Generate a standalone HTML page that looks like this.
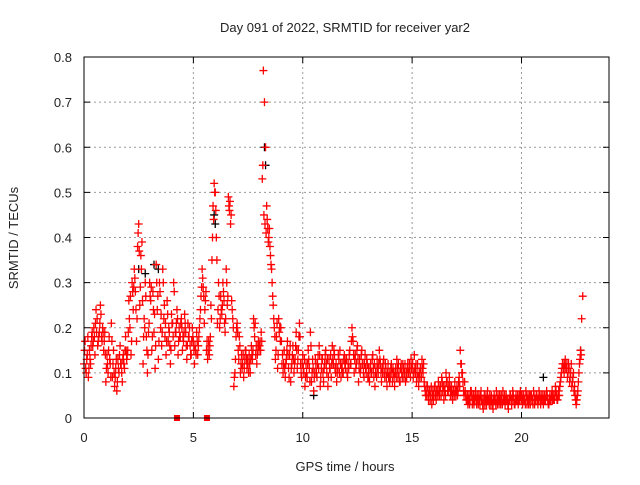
<!DOCTYPE html>
<html><head><meta charset="utf-8"><style>
html,body{margin:0;padding:0;background:#fff}
svg text{font-family:"Liberation Sans",sans-serif;font-size:13px;fill:#222}
</style></head><body>
<svg id="c" width="640" height="480">
<text x="345" y="32" text-anchor="middle">Day 091 of 2022, SRMTID for receiver yar2</text>
<text transform="translate(18,238) rotate(-90)" text-anchor="middle">SRMTID / TECUs</text>
<text x="345" y="471" text-anchor="middle">GPS time / hours</text>
<g id="grid"></g><g id="ticks"></g><g id="marks"></g>
<rect x="84" y="57" width="525" height="361" fill="none" stroke="#000" stroke-width="1"/>
</svg>
<script>
const xTicks=[0,5,10,15,20];
const yTicks=[0,0.1,0.2,0.3,0.4,0.5,0.6,0.7,0.8];
const yTickLabels=["0","0.1","0.2","0.3","0.4","0.5","0.6","0.7","0.8"];
const blockStarts=[0,1,2,3,4,5,6,7,8,9,10,11,12,13,14,15,16,17,18,19,20,21,22];
const redBlocks=[
[0.12,0.17,0.10,0.14,0.09,0.15,0.12,0.18,0.16,0.20,0.14,0.24,0.22,0.17,0.19,0.25,0.18,0.20,0.15,0.19],
[0.08,0.14,0.10,0.18,0.12,0.21,0.09,0.15,0.07,0.11,0.06,0.13,0.10,0.16,0.12,0.08,0.14,0.11,0.18,0.13],
[0.15,0.26,0.20,0.14,0.30,0.24,0.33,0.28,0.17,0.38,0.43,0.25,0.36,0.39,0.12,0.22,0.30,0.18,0.10,0.19],
[0.30,0.26,0.15,0.28,0.19,0.11,0.34,0.24,0.13,0.30,0.20,0.16,0.33,0.22,0.18,0.14,0.26,0.17,0.19,0.12],
[0.23,0.21,0.30,0.16,0.19,0.24,0.14,0.20,0.18,0.22,0.15,0.17,0.23,0.19,0.13,0.21,0.18,0.16,0.14,0.20],
[0.17,0.12,0.15,0.19,0.14,0.18,0.22,0.27,0.33,0.29,0.21,0.26,0.15,0.13,0.17,0.16,0.25,0.35,0.47,0.52],
[0.50,0.40,0.21,0.30,0.20,0.27,0.23,0.30,0.26,0.19,0.33,0.25,0.49,0.46,0.43,0.26,0.22,0.07,0.10,0.18],
[0.21,0.15,0.18,0.10,0.14,0.12,0.09,0.13,0.15,0.11,0.12,0.14,0.10,0.16,0.13,0.22,0.18,0.14,0.12,0.16],
[0.15,0.17,0.19,0.53,0.77,0.70,0.60,0.47,0.42,0.40,0.38,0.34,0.30,0.25,0.20,0.13,0.18,0.11,0.22,0.20],
[0.20,0.12,0.10,0.15,0.09,0.13,0.17,0.11,0.14,0.08,0.12,0.16,0.10,0.13,0.19,0.11,0.15,0.21,0.12,0.09],
[0.14,0.10,0.07,0.12,0.09,0.15,0.11,0.19,0.08,0.13,0.06,0.10,0.12,0.09,0.14,0.16,0.07,0.11,0.13,0.08],
[0.12,0.15,0.10,0.07,0.13,0.11,0.09,0.16,0.12,0.14,0.10,0.08,0.11,0.13,0.15,0.09,0.12,0.10,0.14,0.11],
[0.13,0.09,0.11,0.15,0.12,0.20,0.17,0.10,0.14,0.12,0.16,0.08,0.13,0.11,0.15,0.12,0.09,0.14,0.10,0.12],
[0.11,0.08,0.12,0.10,0.14,0.09,0.07,0.11,0.13,0.10,0.15,0.12,0.08,0.10,0.13,0.09,0.11,0.07,0.12,0.10],
[0.09,0.12,0.08,0.10,0.07,0.11,0.13,0.09,0.10,0.08,0.12,0.09,0.11,0.10,0.08,0.09,0.12,0.10,0.11,0.13],
[0.11,0.09,0.14,0.10,0.08,0.12,0.07,0.09,0.11,0.13,0.10,0.08,0.06,0.05,0.07,0.04,0.06,0.05,0.03,0.06],
[0.05,0.07,0.04,0.06,0.08,0.05,0.07,0.09,0.06,0.04,0.07,0.10,0.08,0.06,0.09,0.05,0.07,0.04,0.06,0.08],
[0.05,0.07,0.06,0.09,0.15,0.12,0.10,0.06,0.08,0.05,0.04,0.03,0.05,0.04,0.06,0.03,0.05,0.04,0.06,0.03],
[0.04,0.05,0.03,0.06,0.04,0.02,0.05,0.04,0.03,0.06,0.04,0.05,0.03,0.04,0.02,0.05,0.04,0.06,0.03,0.04],
[0.05,0.03,0.04,0.06,0.04,0.03,0.05,0.04,0.02,0.04,0.05,0.03,0.06,0.04,0.03,0.05,0.04,0.03,0.05,0.06],
[0.04,0.03,0.05,0.04,0.06,0.03,0.05,0.04,0.03,0.05,0.04,0.06,0.03,0.04,0.05,0.03,0.06,0.04,0.05,0.04],
[0.03,0.05,0.04,0.06,0.04,0.03,0.05,0.04,0.06,0.05,0.04,0.07,0.05,0.04,0.06,0.07,0.09,0.11,0.12,0.10],
[0.13,0.11,0.09,0.12,0.08,0.10,0.07,0.09,0.06,0.05,0.03,0.05,0.08,0.12,0.15,0.22,0.27]
];
const redBlocks2=[
[0.15,0.11,0.13,0.18,0.11,0.13,0.16,0.19,0.17,0.18,0.21,0.19,0.16,0.18,0.21,0.23,0.17,0.19,0.17,0.14],
[0.11,0.12,0.15,0.13,0.09,0.17,0.12,0.10,0.09,0.13,0.08,0.11,0.14,0.12,0.10,0.13,0.12,0.15,0.15,0.14],
[0.19,0.22,0.27,0.17,0.28,0.29,0.31,0.24,0.22,0.41,0.37,0.29,0.33,0.26,0.18,0.20,0.27,0.15,0.14,0.21],
[0.27,0.29,0.18,0.24,0.23,0.16,0.30,0.27,0.17,0.28,0.23,0.19,0.30,0.25,0.21,0.17,0.23,0.20,0.16,0.15],
[0.21,0.18,0.28,0.19,0.21,0.22,0.17,0.18,0.21,0.20,0.18,0.19,0.21,0.16,0.16,0.18,0.20,0.14,0.17,0.18],
[0.15,0.16,0.14,0.17,0.16,0.20,0.24,0.29,0.31,0.27,0.24,0.28,0.17,0.15,0.14,0.18,0.22,0.40,0.44,0.50],
[0.46,0.35,0.24,0.27,0.22,0.24,0.25,0.28,0.21,0.22,0.30,0.27,0.47,0.48,0.45,0.24,0.20,0.09,0.13,0.20],
[0.19,0.13,0.16,0.12,0.11,0.14,0.11,0.15,0.13,0.13,0.10,0.12,0.13,0.14,0.15,0.20,0.21,0.16,0.14,0.17],
[0.16,0.15,0.17,0.56,0.45,0.43,0.41,0.44,0.39,0.42,0.36,0.33,0.27,0.22,0.18,0.15,0.21,0.14,0.19,0.17],
[0.17,0.14,0.12,0.11,0.12,0.15,0.14,0.09,0.16,0.11,0.14,0.13,0.12,0.16,0.15,0.13,0.18,0.18,0.10,0.12],
[0.11,0.13,0.09,0.10,0.12,0.13,0.08,0.16,0.10,0.11,0.09,0.13,0.10,0.12,0.11,0.14,0.09,0.13,0.10,0.11],
[0.14,0.12,0.13,0.09,0.11,0.14,0.12,0.13,0.15,0.11,0.12,0.10,0.14,0.10,0.12,0.11,0.10,0.13,0.12,0.13],
[0.10,0.12,0.14,0.12,0.17,0.18,0.14,0.13,0.11,0.15,0.13,0.11,0.10,0.14,0.12,0.10,0.12,0.11,0.13,0.09],
[0.09,0.11,0.10,0.13,0.11,0.12,0.10,0.09,0.11,0.12,0.13,0.10,0.11,0.12,0.10,0.12,0.09,0.10,0.09,0.08],
[0.11,0.10,0.11,0.09,0.10,0.09,0.11,0.12,0.08,0.11,0.10,0.12,0.09,0.12,0.10,0.11,0.10,0.12,0.09,0.11],
[0.12,0.10,0.11,0.12,0.10,0.09,0.10,0.11,0.09,0.11,0.12,0.07,0.05,0.07,0.05,0.06,0.04,0.07,0.05,0.04],
[0.07,0.05,0.06,0.05,0.06,0.07,0.05,0.08,0.07,0.06,0.05,0.08,0.06,0.07,0.07,0.06,0.05,0.06,0.05,0.06],
[0.06,0.05,0.08,0.07,0.12,0.10,0.08,0.05,0.06,0.04,0.05,0.04,0.03,0.06,0.05,0.04,0.03,0.05,0.04,0.05],
[0.03,0.04,0.05,0.04,0.03,0.04,0.03,0.05,0.04,0.04,0.03,0.04,0.05,0.03,0.04,0.04,0.03,0.04,0.05,0.03],
[0.04,0.05,0.03,0.04,0.05,0.04,0.04,0.03,0.04,0.05,0.04,0.04,0.05,0.03,0.04,0.04,0.05,0.04,0.04,0.05],
[0.05,0.04,0.04,0.03,0.05,0.04,0.03,0.05,0.05,0.04,0.03,0.05,0.04,0.05,0.04,0.04,0.05,0.03,0.04,0.05],
[0.04,0.04,0.05,0.05,0.03,0.04,0.04,0.05,0.04,0.04,0.05,0.06,0.04,0.05,0.05,0.08,0.10,0.12,0.11,0.12],
[0.11,0.12,0.10,0.11,0.09,0.12,0.08,0.10,0.07,0.04,0.04,0.06,0.10,0.13,0.14]
];
const blackTimes=[2.5,2.8,3.2,3.4,5.95,6.0,8.25,8.3,10.5,21.0,22.7];
const blackValues=[0.33,0.32,0.34,0.33,0.45,0.43,0.60,0.56,0.05,0.09,0.15];
const zeroTimes=[4.25,5.62];
const step=0.05;
const X=t=>84+t*(525/24);
const Y=v=>418-v*(361/0.8);
const NS='http://www.w3.org/2000/svg';
const grid=document.getElementById('grid'),ticks=document.getElementById('ticks'),marks=document.getElementById('marks');
function mk(tag,attrs,parent){const e=document.createElementNS(NS,tag);for(const k in attrs)e.setAttribute(k,attrs[k]);parent.appendChild(e);return e;}
xTicks.forEach(t=>{
  if(t>0){const g=mk('line',{x1:X(t),x2:X(t),y1:57,y2:418,stroke:'#999','stroke-dasharray':'2,3'},grid);
  
  }
  const tx=mk('text',{x:X(t),y:442,'text-anchor':'middle'},ticks);tx.textContent=t;
  
  
  mk('line',{x1:X(t),x2:X(t),y1:418,y2:412,stroke:'#000'},ticks);
  mk('line',{x1:X(t),x2:X(t),y1:57,y2:63,stroke:'#000'},ticks);
});
yTicks.forEach((v,i)=>{
  if(v>0&&v<0.8){const g=mk('line',{x1:84,x2:609,y1:Y(v),y2:Y(v),stroke:'#999','stroke-dasharray':'2,3'},grid);
  
  }
  const tx=mk('text',{x:72,y:Y(v)+5,'text-anchor':'end'},ticks);tx.textContent=yTickLabels[i];
  
  
  mk('line',{x1:84,x2:90,y1:Y(v),y2:Y(v),stroke:'#000'},ticks);
  mk('line',{x1:609,x2:603,y1:Y(v),y2:Y(v),stroke:'#000'},ticks);
});
function plus(t,v,col,name){
  const x=X(t),y=Y(v);
  const p=mk('path',{d:`M${x-4} ${y}h8M${x} ${y-4}v8`,stroke:col,'stroke-width':1.3,fill:'none'},marks);
  
  
}
blackTimes.forEach((t,i)=>plus(t,blackValues[i],'#000','black-point'));
redBlocks.forEach((arr,b)=>arr.forEach((v,i)=>plus(blockStarts[b]+i*step,v,'#f00','red-point')));
redBlocks2.forEach((arr,b)=>arr.forEach((v,i)=>plus(blockStarts[b]+i*step+0.025,v,'#f00','red-point')));
zeroTimes.forEach(t=>{
  const r=mk('rect',{x:X(t)-3,y:415,width:6,height:6,fill:'#f00'},marks);
  
  
});
</script>
</body></html>
